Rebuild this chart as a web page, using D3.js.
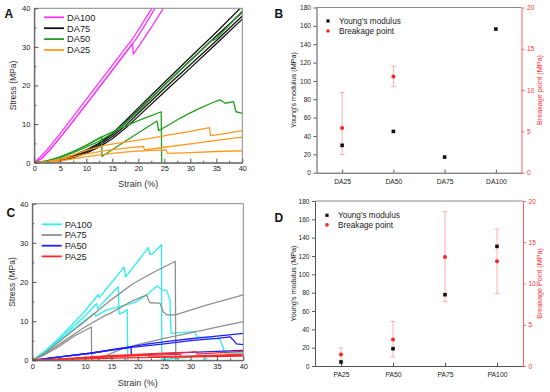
<!DOCTYPE html>
<html><head><meta charset="utf-8">
<script src="https://cdn.jsdelivr.net/npm/d3@7"></script>
<style>body{margin:0;background:#fff}svg{display:block}text{font-family:Arial,"Liberation Sans",sans-serif}</style>
</head><body><svg id="c" width="550" height="392"></svg>
<script>
// ---------- DATA ----------
const strainTicks = [0,5,10,15,20,25,30,35,40];
const stressTicks = [0,10,20,30,40];
const modulusTicks = [0,20,40,60,80,100,120,140,160,180];
const breakTicks = [0,5,10,15,20];

// Panel A curves [strain %, stress MPa]
const DA100 = [
  [[0,0],[1,1.3],[2.5,3.4],[5,7.6],[7.5,12],[10,16.4],[12.5,20.8],[15,25.2],[17,28.8],[19,32.3],[20.8,36.1],[22.6,40]],
  [[0,0],[1.4,1.1],[3,3.3],[5.5,7.4],[8,11.7],[10.6,16.2],[13.1,20.6],[15.6,25],[17.6,28.6],[19.6,32.1],[21.4,35.9],[23.2,40]],
  [[0,0],[1.4,1.1],[3,3.3],[5.5,7.4],[8,11.7],[10.6,16.2],[13.1,20.6],[15.6,25],[17.6,28.6],[18.9,30.9],[19.05,28.1],[21,32],[23,36.1],[24.8,40]]
];
const DA75 = [
  [[0,0],[2.5,0.2],[5,0.8],[7.5,1.9],[10,3.3],[12.5,5.1],[15,7.6],[17.5,10.8],[20,14.2],[25,20.8],[30,27.3],[35,33.8],[39.6,40]],
  [[0,0],[2.5,0.2],[5,0.7],[7.5,1.7],[10,3.1],[12.5,4.9],[15,7.3],[17.5,10.3],[20,13.6],[25,20.1],[30,26.5],[35,32.8],[40,39.0]],
  [[0,0],[2.5,0.15],[5,0.6],[7.5,1.5],[10,2.8],[12.5,4.5],[15,6.8],[17.5,9.6],[20,12.8],[25,19.2],[30,25.4],[35,31.6],[40,38.0]],
  [[0,0],[2.5,0.1],[5,0.5],[7.5,1.3],[10,2.5],[12.5,4.1],[15,6.2],[17.5,8.9],[20,12.0],[25,18.3],[30,24.5],[35,30.8],[40,37.2]]
];
const DA50 = [
  [[0,0],[2.5,0.4],[5,1.3],[7.5,2.6],[10,4.0],[12.5,5.6],[15,7.6],[17.5,10.3],[20,13.4],[25,20],[30,26.4],[34,31.5],[34.6,31.9],[35,32.1],[40,39.3]],
  [[0,0],[2.5,0.5],[5,1.5],[7.5,2.9],[10,4.5],[13,6.7],[16,8.6],[20,10.9],[22.5,12.2],[24.4,13.2],[24.5,0]],
  [[0,0],[2.5,0.5],[5,1.5],[7.5,2.9],[10,4.5],[12.95,6.7],[13.0,1.6],[18,6],[23.6,10.8],[23.9,8.3],[26,9.9],[28,11.5],[30,12.9],[32,14.2],[34,15.4],[35.7,16.3],[36.7,15.4],[38.3,15.8],[38.8,13.2],[40,12.8]]
];
const DA25 = [
  [[0,0],[2.5,0.3],[5,1.0],[7.5,2.0],[10,3.2],[13.9,4.6],[18.4,5.5],[22.25,6.3],[26,7.2],[30,8.1],[33.7,9.1],[33.9,7.0],[36,7.4],[40,8.3]],
  [[0,0],[2.5,0.2],[5,0.8],[7.5,1.5],[10,2.3],[14,3.2],[18.4,3.9],[21,4.2],[21.2,3.3],[25,4.0],[30,4.9],[35,5.8],[40,6.6]],
  [[0,0],[2.5,0.1],[5,0.5],[7.5,1.0],[10,1.6],[15,2.4],[18.4,2.85],[22.7,3.2],[25.4,3.3],[25.6,2.4],[30,2.6],[35,2.9],[40,3.1]]
];

// Panel C curves
const PA100 = [
  [[0,0],[2.5,2.5],[5,5.6],[7.5,9.0],[10,12.6],[12.5,16.8],[12.7,16.0],[15,19.8],[17.4,23.8],[17.7,21.3],[20,25.3],[22,28.8],[22.3,27.0],[22.8,27.2],[24.5,29.5],[24.55,0.2],[30,0.8],[32,1.1],[33,0.5],[33.1,0]],
  [[0,0],[2.5,2.3],[5,5.2],[7.5,8.3],[10,11.3],[12.2,14.5],[12.4,13.2],[14,15.6],[16.3,18.8],[16.45,11.8],[17.3,12.3],[18,13],[18.1,0]],
  [[0,0],[2.5,2.1],[5,4.8],[7.5,7.6],[10,10.2],[11.8,12.0],[12.0,11.3],[14,12.8],[16,13.5],[19.5,14.8],[21.5,16.5],[23.6,19.0],[24.6,18.0],[25.5,17.8],[26.1,15.4],[26.3,6.9],[28,7.05],[30.8,7.3],[31.2,6.0],[35.6,5.4],[36.2,3.1],[36.5,1.8],[40,1.9]]
];
const PA75 = [
  [[0,0],[2,1.5],[5,4.7],[10,10],[15,15.5],[19,19.5],[23,22.5],[27.1,25.3],[27.2,0]],
  [[0,0],[2,1.3],[5,4.0],[10,8.5],[14,11.6],[14.5,11.8],[19,15.2],[21.7,16.7],[21.9,15.8],[22.3,14.7],[24.2,14.6],[24.8,12.4],[25.5,11.6],[27.1,11.6],[33,14.1],[40,16.7]],
  [[0,0],[2,1.2],[5,3.5],[8,6.2],[11.2,8.5],[11.25,0.3],[14,1.2],[17,2.9],[20,4.0],[25,5.6],[30,7.0],[35,8.5],[40,9.9]]
];
const PA50 = [
  [[0,0],[3,0.5],[6,1.0],[11,1.8],[15,2.7],[18.8,3.5],[22,4.2],[26,4.9],[30,5.5],[35,6.2],[40,6.9]],
  [[0,0],[3,0.5],[6,1.0],[11,1.8],[15,2.6],[18.8,3.3],[25,4.2],[30,5.0],[35,5.6],[37.5,6.0],[38.1,5.2],[38.7,4.2],[40,4.0]],
  [[0,0],[3,0.5],[6,1.0],[11,1.8],[15,2.6],[18.7,3.4],[18.8,1.3],[25,1.7],[30,2.0],[35,2.3],[40,2.5]]
];
const PA25 = [
  [[0,0],[5,0.3],[11,0.9],[15,1.2],[20,1.5],[25,1.8],[30,2.1],[31,2.2],[31.3,1.6],[35,1.9],[40,2.3]],
  [[0,0],[5,0.2],[11,0.6],[15,0.9],[20,1.2],[25,1.4],[28,1.5],[28.2,1.0],[33,1.2],[40,1.6]],
  [[0,0],[11,0.7],[20,1.3],[22,1.4],[22.2,0.8],[30,1.0],[40,1.3]],
  [[0,0],[5,0.15],[11,0.4],[20,0.7],[30,0.9],[40,1.1]]
];

// Panel B
const catsB = ["DA25","DA50","DA75","DA100"];
const modulusB = [29.8,45,17,156.5];
const breakB = [5.4,11.65,null,null];
const breakB_lo = [2.2,10.4,null,null];
const breakB_hi = [9.7,12.9,null,null];

// Panel D
const catsD = ["PA25","PA50","PA75","PA100"];
const modulusD = [4.4,18.9,77.8,130.5];
const breakD = [1.4,3.2,13.2,12.7];
const breakD_lo = [0.6,1.1,7.8,8.8];
const breakD_hi = [2.2,5.4,18.7,16.6];

// ---------- DRAW ----------
const svg = d3.select("#c");
const FONT = 'Arial,"Liberation Sans",sans-serif';

function styleAxis(sel, size, color) {
  sel.attr("font-family", FONT).attr("font-size", size);
  sel.selectAll("text").attr("fill", color || "#222");
}

function strainPanel(cfg, groups) {
  const x = d3.scaleLinear().domain([0,40]).range([cfg.x0,cfg.x1]);
  const y = d3.scaleLinear().domain([0,40]).range([cfg.y0,cfg.y1]);
  const id = "clip" + cfg.id;
  svg.append("clipPath").attr("id", id).append("rect")
    .attr("x", cfg.x0).attr("y", cfg.y1).attr("width", cfg.x1-cfg.x0).attr("height", cfg.y0-cfg.y1);
  const line = d3.line().x(d=>x(d[0])).y(d=>y(d[1]));
  const g = svg.append("g").attr("clip-path", `url(#${id})`);
  groups.forEach(gr => gr.curves.forEach(c => {
    g.append("path").attr("d", line(c)).attr("fill","none").attr("stroke", gr.color)
      .attr("stroke-width", 1.3).attr("stroke-linejoin","round");
  }));
  svg.append("rect").attr("x", cfg.x0).attr("y", cfg.y1).attr("width", cfg.x1-cfg.x0).attr("height", cfg.y0-cfg.y1)
    .attr("fill","none").attr("stroke","#8a8a8a").attr("stroke-width",1);
  const xa = svg.append("g").attr("transform",`translate(0,${cfg.y0})`)
    .call(d3.axisBottom(x).tickValues(strainTicks).tickSizeInner(-4).tickSizeOuter(0).tickPadding(3));
  styleAxis(xa, 7.5);
  const minorX = d3.range(2.5, 40, 5);
  svg.append("g").attr("transform",`translate(0,${cfg.y0})`)
    .call(d3.axisBottom(x).tickValues(minorX).tickSizeInner(-2).tickSizeOuter(0).tickFormat(""))
    .select(".domain").remove();
  const ya = svg.append("g").attr("transform",`translate(${cfg.x0},0)`)
    .call(d3.axisLeft(y).tickValues(stressTicks).tickSizeInner(-4).tickSizeOuter(0).tickPadding(4));
  styleAxis(ya, 7.5);
  svg.append("g").attr("transform",`translate(${cfg.x0},0)`)
    .call(d3.axisLeft(y).tickValues([5,15,25,35]).tickSizeInner(-2).tickSizeOuter(0).tickFormat(""))
    .select(".domain").remove();
  svg.selectAll(".domain").attr("stroke","#555");
  svg.selectAll(".tick line").attr("stroke","#555");
  svg.append("text").attr("x", (cfg.x0+cfg.x1)/2).attr("y", cfg.xtY).attr("text-anchor","middle")
    .attr("font-size", 9).attr("fill","#333").text("Strain (%)");
  svg.append("text").attr("transform",`translate(${cfg.ytX},${(cfg.y0+cfg.y1)/2}) rotate(-90)`)
    .attr("text-anchor","middle").attr("font-size", 8.5).attr("fill","#333").text("Stress (MPa)");
  groups.forEach((gr,i) => {
    const yy = cfg.legY + i*cfg.legDy;
    svg.append("line").attr("x1", cfg.legX).attr("x2", cfg.legX+20).attr("y1", yy).attr("y2", yy)
      .attr("stroke", gr.color).attr("stroke-width", 1.8);
    svg.append("text").attr("x", cfg.legX+23).attr("y", yy+3.3).attr("font-size", 9.3).attr("fill","#222").text(gr.name);
  });
  svg.append("text").attr("x", cfg.lx).attr("y", cfg.ly).attr("font-size", 12).attr("font-weight","bold").attr("fill","#111").text(cfg.letter);
}

function scatterPanel(cfg, cats, modulus, brk, lo, hi) {
  const x = d3.scalePoint().domain(cats).range([cfg.x0,cfg.x1]).padding(0.5);
  const yL = d3.scaleLinear().domain([0,180]).range([cfg.y0,cfg.y1]);
  const yR = d3.scaleLinear().domain([0,20]).range([cfg.y0,cfg.y1]);
  svg.append("line").attr("x1",cfg.x0).attr("x2",cfg.x1).attr("y1",cfg.y1).attr("y2",cfg.y1).attr("stroke","#8a8a8a");
  const xa = svg.append("g").attr("transform",`translate(0,${cfg.y0})`)
    .call(d3.axisBottom(x).tickSizeInner(-3).tickSizeOuter(0).tickPadding(6));
  styleAxis(xa, 6.8);
  const ya = svg.append("g").attr("transform",`translate(${cfg.x0},0)`)
    .call(d3.axisLeft(yL).tickValues(modulusTicks).tickSizeInner(3).tickSizeOuter(0).tickPadding(2.5));
  styleAxis(ya, 6.6);
  [xa, ya].forEach(a => { a.selectAll(".domain").attr("stroke","#555"); a.selectAll(".tick line").attr("stroke","#555"); });
  const yr = svg.append("g").attr("transform",`translate(${cfg.x1},0)`)
    .call(d3.axisRight(yR).tickValues(breakTicks).tickSizeInner(3).tickSizeOuter(0).tickPadding(2.5));
  styleAxis(yr, 6.6, "#ff3030");
  yr.selectAll(".domain").attr("stroke","#ff6060");
  yr.selectAll(".tick line").attr("stroke","#ff6060");
  cats.forEach((c,i) => {
    if (brk[i] == null) return;
    const cx = x(c);
    svg.append("line").attr("x1",cx).attr("x2",cx).attr("y1",yR(lo[i])).attr("y2",yR(hi[i])).attr("stroke","#ff9a9a").attr("stroke-width",0.8);
    [lo[i],hi[i]].forEach(v => svg.append("line").attr("x1",cx-2.5).attr("x2",cx+2.5).attr("y1",yR(v)).attr("y2",yR(v)).attr("stroke","#ff9a9a").attr("stroke-width",0.8));
  });
  cats.forEach((c,i) => {
    svg.append("rect").attr("x", x(c)-1.8).attr("y", yL(modulus[i])-1.8).attr("width",3.6).attr("height",3.6).attr("fill","#111");
  });
  cats.forEach((c,i) => {
    if (brk[i] == null) return;
    svg.append("circle").attr("cx", x(c)).attr("cy", yR(brk[i])).attr("r", 2).attr("fill","#ff2020");
  });
  svg.append("text").attr("transform",`translate(${cfg.ylX},${(cfg.y0+cfg.y1)/2}) rotate(-90)`)
    .attr("text-anchor","middle").attr("font-size",7.2).attr("fill","#222").text("Young's modulus (MPa)");
  svg.append("text").attr("transform",`translate(${cfg.yrX},${(cfg.y0+cfg.y1)/2}) rotate(-90)`)
    .attr("text-anchor","middle").attr("font-size",7.2).attr("fill","#ff3030").text(cfg.rightTitle);
  svg.append("rect").attr("x", cfg.legX-1.6).attr("y", cfg.legY-1.6).attr("width",3.2).attr("height",3.2).attr("fill","#111");
  svg.append("text").attr("x", cfg.legX+11).attr("y", cfg.legY+2.8).attr("font-size",8.2).attr("fill","#222").text("Young's modulus");
  svg.append("circle").attr("cx", cfg.legX).attr("cy", cfg.legY+cfg.legDy).attr("r",1.8).attr("fill","#ff2020");
  svg.append("text").attr("x", cfg.legX+11).attr("y", cfg.legY+cfg.legDy+2.8).attr("font-size",8.2).attr("fill","#222").text("Breakage point");
  svg.append("text").attr("x", cfg.lx).attr("y", cfg.ly).attr("font-size", 12).attr("font-weight","bold").attr("fill","#111").text(cfg.letter);
}

strainPanel({id:"A", x0:34.3, x1:242.3, y0:162.7, y1:8.3, xtY:187, ytX:16, legX:44, legY:17.3, legDy:10.9, lx:4.5, ly:18.3, letter:"A"},
  [{name:"DA100", color:"#ff33ff", curves:DA100},
   {name:"DA75", color:"#111111", curves:DA75},
   {name:"DA50", color:"#22a022", curves:DA50},
   {name:"DA25", color:"#ff9a1f", curves:DA25}]);

strainPanel({id:"C", x0:32.3, x1:243.3, y0:360.3, y1:203.7, xtY:386, ytX:15, legX:41.7, legY:224.3, legDy:10.7, lx:6.5, ly:217, letter:"C"},
  [{name:"PA100", color:"#2eeeee", curves:PA100},
   {name:"PA75", color:"#8f8f8f", curves:PA75},
   {name:"PA50", color:"#2020ff", curves:PA50},
   {name:"PA25", color:"#ff2828", curves:PA25}]);

scatterPanel({x0:316.5, x1:521.5, y0:172.7, y1:7.5, ylX:296, yrX:542, legX:328, legY:21, legDy:10, lx:274.5, ly:17.5, letter:"B", rightTitle:"Breakage point (MPa)"},
  catsB, modulusB, breakB, breakB_lo, breakB_hi);

scatterPanel({x0:315, x1:523, y0:366, y1:201, ylX:296, yrX:542, legX:327, legY:215.3, legDy:9.6, lx:274.5, ly:221.5, letter:"D", rightTitle:"Breakage Point (MPa)"},
  catsD, modulusD, breakD, breakD_lo, breakD_hi);
</script></body></html>
